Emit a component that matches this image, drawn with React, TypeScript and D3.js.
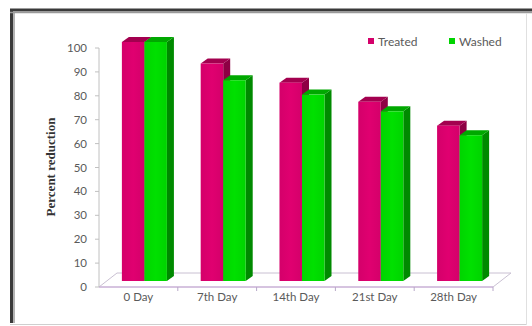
import React from "react";
import * as d3 from "d3";

const categories = ["0 Day", "7th Day", "14th Day", "21st Day", "28th Day"];
const seriesNames = ["Treated", "Washed"];
const treated = [100, 91, 83, 75, 65];
const washed = [100, 84, 78, 71, 61];
const yTicks = [0, 10, 20, 30, 40, 50, 60, 70, 80, 90, 100];

const W = 532;
const H = 326;

// plot box (front plane of the floor / value axis)
const left = 99;
const right = 493;
const bottom = 287;
const top = 48;

// 3D projection offsets
const floorDepth = { dx: 18, dy: -14 };
const barShift = { dx: 6, dy: -6 };
const barDepth = { dx: 7, dy: -5 };

const palette = {
  Treated: { front: "#D4006A", top: "#A3004F", side: "#8E0044" },
  Washed: { front: "#00D400", top: "#00A800", side: "#008A00" },
};

const textColor = "#5a5a5a";
const tickFont = "Lato, 'Open Sans', sans-serif";

export default function App() {
  const x0 = d3.scaleBand<string>().domain(categories).range([left, right]);
  const x1 = d3
    .scaleBand<string>()
    .domain(seriesNames)
    .range([0, x0.bandwidth()])
    .paddingOuter(0.75);
  const y = d3.scaleLinear().domain([0, 100]).range([bottom, top]);

  const values: Record<string, number[]> = { Treated: treated, Washed: washed };

  const bars: React.ReactNode[] = [];
  categories.forEach((cat, i) => {
    seriesNames.forEach((s) => {
      const v = values[s][i];
      const c = palette[s as keyof typeof palette];
      const bx = (x0(cat) as number) + (x1(s) as number) + barShift.dx;
      const bw = x1.bandwidth();
      const yTop = y(v) + barShift.dy;
      const yBot = y(0) + barShift.dy;
      const { dx, dy } = barDepth;
      const topPts = [
        [bx, yTop],
        [bx + dx, yTop + dy],
        [bx + bw + dx, yTop + dy],
        [bx + bw, yTop],
      ]
        .map((p) => p.join(","))
        .join(" ");
      const sidePts = [
        [bx + bw, yTop],
        [bx + bw + dx, yTop + dy],
        [bx + bw + dx, yBot + dy],
        [bx + bw, yBot],
      ]
        .map((p) => p.join(","))
        .join(" ");
      bars.push(
        <g key={cat + s}>
          <polygon points={sidePts} fill={c.side} />
          <polygon points={topPts} fill={c.top} />
          <rect x={bx} y={yTop} width={bw} height={yBot - yTop} fill={`url(#grad-${s})`} />
        </g>
      );
    });
  });

  const floorPts = [
    [left, bottom],
    [left + floorDepth.dx, bottom + floorDepth.dy],
    [right + floorDepth.dx, bottom + floorDepth.dy],
    [right, bottom],
  ]
    .map((p) => p.join(","))
    .join(" ");

  return (
    <svg
      width={W}
      height={H}
      viewBox={`0 0 ${W} ${H}`}
      style={{ position: "absolute", left: 0, top: 0, background: "#fff" }}
    >
      <defs>
        {seriesNames.map((s) => {
          const c = palette[s as keyof typeof palette];
          return (
            <linearGradient key={s} id={`grad-${s}`} x1="0" x2="1" y1="0" y2="0">
              <stop offset="0" stopColor={c.front} />
              <stop offset="0.5" stopColor={d3.color(c.front)!.brighter(0.15).toString()} />
              <stop offset="1" stopColor={c.front} />
            </linearGradient>
          );
        })}
      </defs>

      {/* chart frame */}
      <rect x={0} y={0} width={W} height={H} fill="#fff" />
      <line x1={10} y1={10} x2={W} y2={10} stroke="#3a3a3a" strokeWidth={3} />
      <line x1={11.5} y1={9} x2={11.5} y2={323} stroke="#3a3a3a" strokeWidth={3} />
      <line x1={10} y1={12.5} x2={W} y2={12.5} stroke="#9a9a9a" strokeWidth={1.5} />
      <line x1={14} y1={12} x2={14} y2={323} stroke="#9a9a9a" strokeWidth={1.5} />
      <line x1={10} y1={324.5} x2={527} y2={324.5} stroke="#cfcfcf" strokeWidth={1} />
      <line x1={526.5} y1={13} x2={526.5} y2={325} stroke="#e0e0e0" strokeWidth={1} />

      {/* floor */}
      <polygon points={floorPts} fill="none" stroke="#c9c0d2" strokeWidth={1} />
      <line x1={left} y1={bottom} x2={right} y2={bottom} stroke="#c8a8d8" strokeWidth={1.2} />

      {/* category ticks */}
      {categories.map((cat, i) => (
        <line
          key={"ct" + i}
          x1={(x0(cat) as number) + x0.bandwidth()}
          x2={(x0(cat) as number) + x0.bandwidth()}
          y1={bottom}
          y2={bottom + 4}
          stroke="#b8a8c8"
        />
      ))}

      {/* value axis */}
      <line x1={left} y1={top} x2={left} y2={bottom} stroke="#c0c0c0" strokeWidth={1} />
      {yTicks.map((t) => (
        <g key={"yt" + t}>
          <line x1={left - 4} x2={left} y1={y(t)} y2={y(t)} stroke="#c0c0c0" />
          <text
            x={87}
            y={y(t)}
            dy="0.35em"
            textAnchor="end"
            fontFamily={tickFont}
            fontSize={11.5}
            fill={textColor}
          >
            {t}
          </text>
        </g>
      ))}

      {bars}

      {/* category labels */}
      {categories.map((cat) => (
        <text
          key={"cl" + cat}
          x={(x0(cat) as number) + x0.bandwidth() / 2}
          y={301}
          textAnchor="middle"
          fontFamily={tickFont}
          fontSize={11.5}
          fill={textColor}
        >
          {cat}
        </text>
      ))}

      {/* value axis title */}
      <text
        transform="translate(55,167) rotate(-90)"
        textAnchor="middle"
        fontFamily="'Liberation Serif', 'DejaVu Serif', serif"
        fontWeight="bold"
        fontSize={13}
        fill="#333"
      >
        Percent reduction
      </text>

      {/* legend */}
      {seriesNames.map((s, i) => {
        const lx = [368, 449][i];
        const c = palette[s as keyof typeof palette];
        return (
          <g key={"lg" + s}>
            <rect x={lx} y={38} width={6} height={6} fill={c.front} />
            <text
              x={lx + 10}
              y={45.5}
              fontFamily={tickFont}
              fontSize={12}
              fill={textColor}
            >
              {s}
            </text>
          </g>
        );
      })}
    </svg>
  );
}
